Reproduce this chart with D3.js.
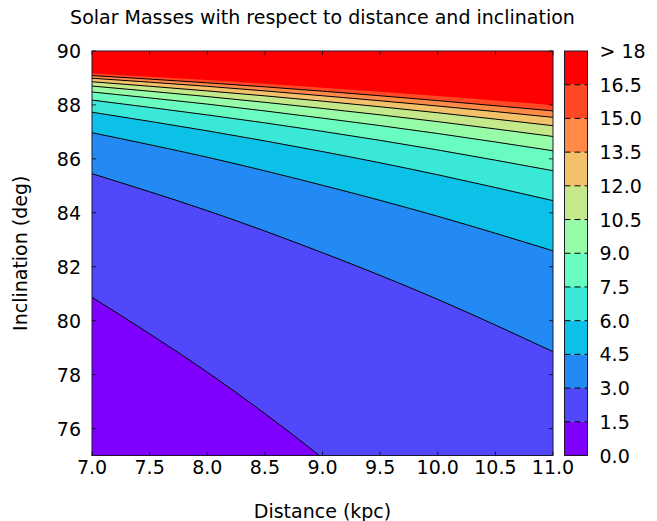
<!DOCTYPE html>
<html>
<head>
<meta charset="utf-8">
<script src="https://cdn.jsdelivr.net/npm/d3@7"></script>
<style>
  html, body { margin: 0; padding: 0; background: #fff; }
  svg { display: block; font-family: "DejaVu Sans", sans-serif; }
</style>
</head>
<body>
<svg id="chart" width="657" height="521"></svg>
<script>
// ---- data ----
const distances = [7, 8, 9, 10, 11];               // kpc
// inclination (deg) of each contour boundary at the distances above
const incl_1_5  = [80.87, 78.09, 74.91, 71.32, 67.25];
const incl_3_0  = [85.45, 84.08, 82.52, 80.79, 78.85];
const incl_4_5  = [86.97, 86.06, 85.02, 83.87, 82.59];
const incl_6_0  = [87.73, 87.04, 86.27, 85.41, 84.45];
const incl_7_5  = [88.18, 87.63, 87.02, 86.33, 85.56];
const incl_9_0  = [88.48, 88.03, 87.51, 86.94, 86.30];
const incl_10_5 = [88.70, 88.31, 87.87, 87.38, 86.83];
const incl_12_0 = [88.86, 88.52, 88.14, 87.71, 87.23];
const incl_13_5 = [88.99, 88.69, 88.34, 87.96, 87.54];
const incl_15_0 = [89.09, 88.82, 88.51, 88.16, 87.78];
const incl_16_5 = [89.17, 88.92, 88.64, 88.33, 87.99];
const levels = [1.5, 3.0, 4.5, 6.0, 7.5, 9.0, 10.5, 12.0, 13.5, 15.0, 16.5];
const boundaries = [incl_1_5, incl_3_0, incl_4_5, incl_6_0, incl_7_5, incl_9_0,
                    incl_10_5, incl_12_0, incl_13_5, incl_15_0, incl_16_5];
const drawnLine = [true, true, true, true, true, true, true, true, true, true, false];
const layerColors = ["#8000ff", "#5148fc", "#238af5", "#0cc1e8", "#3ae8d7", "#68fcc1",
                     "#97fca7", "#c5e88a", "#f3c16a", "#ff8a48", "#ff4824", "#ff0000"];
const xTicks = [7.0, 7.5, 8.0, 8.5, 9.0, 9.5, 10.0, 10.5, 11.0];
const yTicks = [76, 78, 80, 82, 84, 86, 88, 90];
const cbTickValues = [0, 1.5, 3, 4.5, 6, 7.5, 9, 10.5, 12, 13.5, 15, 16.5, 18];
const cbTickLabels = ["0.0","1.5","3.0","4.5","6.0","7.5","9.0","10.5","12.0","13.5","15.0","16.5","> 18"];

// ---- layout ----
const svg = d3.select("#chart");
const L = 92, R = 553, T = 51, B = 455.5;
const cbL = 564.5, cbR = 587.5;
const fs = 19;

const x = d3.scaleLinear().domain([7, 11]).range([L, R]);
const y = d3.scaleLinear().domain([75, 90]).range([B, T]);

svg.append("clipPath").attr("id", "plotclip")
  .append("rect").attr("x", L).attr("y", T).attr("width", R - L).attr("height", B - T);

const g = svg.append("g").attr("clip-path", "url(#plotclip)");
g.append("rect").attr("x", L).attr("y", T).attr("width", R - L).attr("height", B - T)
  .attr("fill", layerColors[0]);

const curve = d3.curveNatural;
boundaries.forEach((arr, k) => {
  const pts = distances.map((d, i) => [d, arr[i]]);
  const area = d3.area().curve(curve)
    .x(p => x(p[0])).y0(y(90) - 5).y1(p => y(p[1]));
  g.append("path").datum(pts).attr("d", area).attr("fill", layerColors[k + 1]);
});
boundaries.forEach((arr, k) => {
  if (!drawnLine[k]) return;
  const pts = distances.map((d, i) => [d, arr[i]]);
  const line = d3.line().curve(curve).x(p => x(p[0])).y(p => y(p[1]));
  g.append("path").datum(pts).attr("d", line).attr("fill", "none")
    .attr("stroke", "#000").attr("stroke-width", 1);
});

// ticks (inward, all sides)
const tickLen = 4;
const ax = svg.append("g").attr("stroke", "#000").attr("stroke-width", 0.8);
xTicks.forEach(v => {
  ax.append("line").attr("x1", x(v)).attr("x2", x(v)).attr("y1", B).attr("y2", B - tickLen);
  ax.append("line").attr("x1", x(v)).attr("x2", x(v)).attr("y1", T).attr("y2", T + tickLen);
});
yTicks.forEach(v => {
  ax.append("line").attr("x1", L).attr("x2", L + tickLen).attr("y1", y(v)).attr("y2", y(v));
  ax.append("line").attr("x1", R).attr("x2", R - tickLen).attr("y1", y(v)).attr("y2", y(v));
});
svg.append("rect").attr("x", L).attr("y", T).attr("width", R - L).attr("height", B - T)
  .attr("fill", "none").attr("stroke", "#1a1a2a").attr("stroke-width", 1);

// tick labels
const fmt = d3.format(".1f");
svg.append("g").selectAll("text").data(xTicks).join("text")
  .attr("x", d => x(d)).attr("y", B + 18).attr("text-anchor", "middle")
  .attr("font-size", fs).attr("fill", "#000").text(d => fmt(d));
svg.append("g").selectAll("text").data(yTicks).join("text")
  .attr("x", L - 11).attr("y", d => y(d) + 7).attr("text-anchor", "end")
  .attr("font-size", fs).attr("fill", "#000").text(d => d);

// axis labels & title
svg.append("text").attr("x", (L + R) / 2).attr("y", 518).attr("text-anchor", "middle")
  .attr("font-size", fs).text("Distance (kpc)");
svg.append("text").attr("transform", `translate(27,${(T + B) / 2}) rotate(-90)`)
  .attr("text-anchor", "middle").attr("font-size", fs).text("Inclination (deg)");
svg.append("text").attr("x", (L + R) / 2).attr("y", 24).attr("text-anchor", "middle")
  .attr("font-size", fs).text("Solar Masses with respect to distance and inclination");

// colorbar
const cy = d3.scaleLinear().domain([0, 18]).range([B, T]);
const cb = svg.append("g");
layerColors.forEach((c, j) => {
  const v0 = cbTickValues[j], v1 = cbTickValues[j + 1];
  cb.append("rect").attr("x", cbL).attr("width", cbR - cbL)
    .attr("y", cy(v1)).attr("height", cy(v0) - cy(v1)).attr("fill", c);
});
levels.forEach(v => {
  cb.append("line").attr("x1", cbL).attr("x2", cbR).attr("y1", cy(v)).attr("y2", cy(v))
    .attr("stroke", "#000").attr("stroke-width", 1).attr("stroke-dasharray", "6,4");
});
cb.append("rect").attr("x", cbL).attr("y", T).attr("width", cbR - cbL).attr("height", B - T)
  .attr("fill", "none").attr("stroke", "#1a1a2a").attr("stroke-width", 1);
cb.selectAll("text.cbl").data(cbTickValues).join("text")
  .attr("x", cbR + 12).attr("y", d => cy(d) + 7).attr("font-size", fs)
  .text((d, i) => cbTickLabels[i]);
</script>
</body>
</html>
